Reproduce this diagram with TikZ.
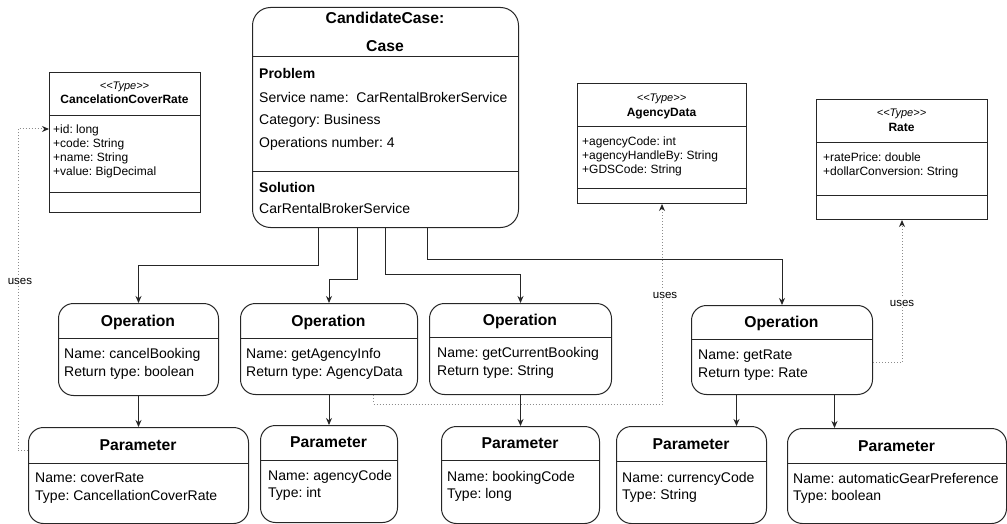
\documentclass[tikz,border=0pt]{standalone}
\usepackage{fontspec}
\setmainfont{Liberation Sans}
\usetikzlibrary{positioning, arrows.meta, calc}
\frenchspacing

\begin{document}
\begin{tikzpicture}[x=1pt, y=-1pt,
    box/.style={draw=black!85, line width=1pt, anchor=north west, inner sep=0pt},
    rbox/.style={box, rounded corners=15pt},
    divl/.style={draw=black!85, line width=1pt},
    conn/.style={draw=black!85, line width=1pt, -{Stealth[length=7pt, width=6pt]}},
    uses/.style={draw=black!45, line width=1pt, dotted, -{Stealth[length=7pt, width=6pt, black!85]}},
    txt/.style={anchor=west, inner sep=0pt, text height=10pt, text depth=0pt, font=\fontsize{14}{16}\selectfont},
    btxt/.style={txt, font=\bfseries\fontsize{14}{16}\selectfont},
    ttl/.style={inner sep=0pt, text height=11.3pt, text depth=0pt, font=\bfseries\fontsize{15.7}{18}\selectfont},
    stxt/.style={anchor=west, inner sep=0pt, text height=8.6pt, text depth=0pt, font=\fontsize{12}{14}\selectfont},
    sttl/.style={inner sep=0pt, text height=8.6pt, text depth=0pt, font=\bfseries\fontsize{12}{14}\selectfont},
    ster/.style={inner sep=0pt, text height=7.9pt, text depth=0pt, font=\itshape\fontsize{11}{13}\selectfont},
    lbl/.style={inner sep=1pt, fill=white, text height=8.3pt, text depth=0pt, font=\fontsize{11.5}{13}\selectfont}]
\useasboundingbox (0,0) rectangle (1007,524);

\node[box, minimum width=151pt, minimum height=140pt] (ccr) at (49,72) {};
\draw[divl] (49,116) -- (200,116) (49,192) -- (200,192);
\node[ster] at (124.5,86) {<\kern0pt<Type>\kern0pt>};
\node[sttl] at (124.5,99) {CancelationCoverRate};
\node[stxt] (ccrid) at (53,129) {+id: long};
\node[stxt] at (53,143) {+code: String};
\node[stxt] at (53,157) {+name: String};
\node[stxt] at (53,171) {+value: BigDecimal};

\node[box, minimum width=169pt, minimum height=120pt] (agency) at (577,83) {};
\draw[divl] (577,127) -- (746,127) (577,188) -- (746,188);
\node[ster] at (661.5,98) {<\kern0pt<Type>\kern0pt>};
\node[sttl] at (661.5,112) {AgencyData};
\node[stxt] at (582,141) {+agencyCode: int};
\node[stxt] at (582,155) {+agencyHandleBy: String};
\node[stxt] at (582,169) {+GDSCode: String};

\node[box, minimum width=171pt, minimum height=120pt] (rate) at (816,99) {};
\draw[divl] (816,143) -- (987,143) (816,195) -- (987,195);
\node[ster] at (901.5,113) {<\kern0pt<Type>\kern0pt>};
\node[sttl] at (901.5,127) {Rate};
\node[stxt] at (823,157) {+ratePrice: double};
\node[stxt] at (823,171) {+dollarConversion: String};

\node[rbox, rounded corners=18pt, minimum width=266pt, minimum height=220pt] (case) at (252,7) {};
\draw[divl] (252,57) -- (518,57) (252,172) -- (518,172);
\node[ttl] at (385,18) {CandidateCase:};
\node[ttl] at (385,46) {Case};
\node[btxt] at (259,74) {Problem};
\node[txt] at (259,98) {Service name:\ \ CarRentalBrokerService};
\node[txt] at (259,120) {Category: Business};
\node[txt] at (259,143) {Operations number: 4};
\node[btxt] at (259,188) {Solution};
\node[txt] at (259,208) {CarRentalBrokerService};

\node[rbox, minimum width=160pt, minimum height=92pt] (op1) at (58,303) {};
\node[rbox, minimum width=177pt, minimum height=91pt] (op2) at (240,303) {};
\node[rbox, minimum width=182pt, minimum height=91pt] (op3) at (429,303) {};
\node[rbox, minimum width=181pt, minimum height=89pt] (op4) at (691,305) {};
\draw[divl] (58,338) -- (218,338) (240,338) -- (417,338) (429,337) -- (611,337) (691,339) -- (872,339);
\node[ttl] at (138,321) {Operation};
\node[ttl] at (328.5,321) {Operation};
\node[ttl] at (520,320) {Operation};
\node[ttl] at (781.5,322) {Operation};
\node[txt] at (64,353) {Name: cancelBooking};
\node[txt] at (64,371) {Return type: boolean};
\node[txt] at (246,353) {Name: getAgencyInfo};
\node[txt] at (246,371) {Return type: AgencyData};
\node[txt] at (437,352) {Name: getCurrentBooking};
\node[txt] at (437,370) {Return type: String};
\node[txt] at (698,354) {Name: getRate};
\node[txt] at (698,372) {Return type: Rate};

\node[rbox, minimum width=220pt, minimum height=96pt] (par1) at (28,427) {};
\node[rbox, minimum width=137pt, minimum height=97pt] (par2) at (260,425) {};
\node[rbox, minimum width=158pt, minimum height=97pt] (par3) at (441,426) {};
\node[rbox, minimum width=150pt, minimum height=97pt] (par4) at (616,426) {};
\node[rbox, minimum width=219pt, minimum height=95pt] (par5) at (787,428) {};
\draw[divl] (28,463) -- (248,463) (260,460) -- (397,460) (441,460) -- (599,460) (616,461) -- (766,461) (787,463) -- (1006,463);
\node[ttl] at (138,445) {Parameter};
\node[ttl] at (328.5,442) {Parameter};
\node[ttl] at (520,443) {Parameter};
\node[ttl] at (691,444) {Parameter};
\node[ttl] at (896.5,446) {Parameter};
\node[txt] at (35,477) {Name: coverRate};
\node[txt] at (35,495) {Type: CancellationCoverRate};
\node[txt] at (268,475) {Name: agencyCode};
\node[txt] at (268,492) {Type: int};
\node[txt] at (447,476) {Name: bookingCode};
\node[txt] at (447,493) {Type: long};
\node[txt] at (622,477) {Name: currencyCode};
\node[txt] at (622,494) {Type: String};
\node[txt] at (793,478) {Name: automaticGearPreference};
\node[txt] at (793,495) {Type: boolean};

\draw[conn] ([xshift=-67pt]case.south) -- ++(0,37) -| (op1.north);
\draw[conn] ([xshift=-28pt]case.south) -- ++(0,51) -| (op2.north);
\draw[conn] (case.south) -- ++(0,46) -| (op3.north);
\draw[conn] ([xshift=42pt]case.south) -- ++(0,31) -| (op4.north);
\draw[conn] (op1.south) -- (par1.north);
\draw[conn] (op2.south) -- (par2.north);
\draw[conn] (op3.south) -- (par3.north);
\draw[conn] ([xshift=-45.5pt]op4.south) -- ([xshift=-45.5pt]op4.south |- par4.north);
\draw[conn] ([xshift=52.5pt]op4.south) -- ([xshift=52.5pt]op4.south |- par5.north);

\draw[uses] ([yshift=25pt]par1.west) -| ([xshift=-31pt]ccr.west |- ccrid) -- (ccr.west |- ccrid);
\draw[uses] ([xshift=44.5pt]op2.south) -- ++(0,9) -| (agency.south);
\draw[uses] ([yshift=-12.5pt]op4.east) -| (rate.south);
\node[lbl] (usesccr) at (20,280) {uses};
\node[lbl] (usesagency) at (665,294) {uses};
\node[lbl] (usesrate) at (902,302) {uses};
\end{tikzpicture}
\end{document}
